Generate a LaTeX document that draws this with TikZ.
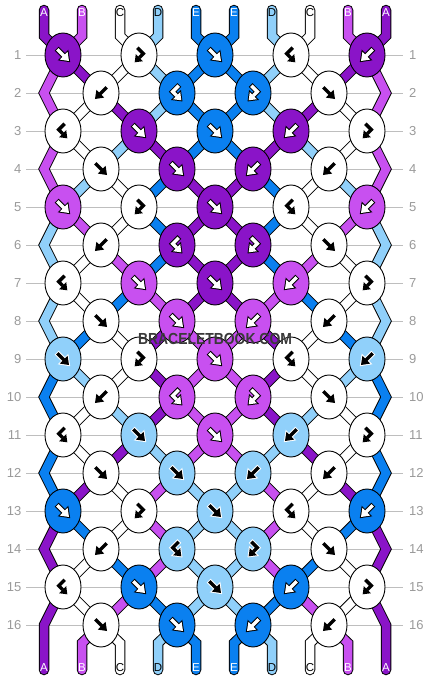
\documentclass[tikz,border=0pt]{standalone}
\usepackage{fontspec}
\setmainfont{Liberation Sans}
\usetikzlibrary{shapes.geometric}
\definecolor{cA}{HTML}{8A14C8}
\definecolor{cB}{HTML}{C850F0}
\definecolor{cC}{HTML}{FFFFFF}
\definecolor{cD}{HTML}{90D0FA}
\definecolor{cE}{HTML}{0A80F0}
\definecolor{gridgray}{HTML}{BEBEBE}
\definecolor{labgray}{HTML}{9A9A9A}
\definecolor{wmark}{HTML}{3A3A3A}
\def\afA{white}\def\aoA{black}
\def\afB{white}\def\aoB{black}
\def\afC{black}\def\aoC{white}
\def\afD{black}\def\aoD{white}
\def\afE{white}\def\aoE{black}
\newcommand\glyphstraight[4]{%
  \begin{scope}[shift={(#1)},rotate=#2]
    \draw[color=#4,line width=5.4pt] (-9,0) -- (1.5,0);
    \filldraw[color=#4,line width=2pt,line join=miter] (1,-5.5) -- (8.5,0) -- (1,5.5) -- cycle;
    \draw[color=#3,line width=3.4pt] (-8,0) -- (1.5,0);
    \fill[color=#3] (1,-5.5) -- (8.5,0) -- (1,5.5) -- cycle;
  \end{scope}}
\newcommand\glyphhook[4]{%
  \begin{scope}[shift={(#1)},xscale=#2,shift={(1.3,0.7)}]
    \draw[color=#4,line width=5.4pt,line join=miter] (-3.7,-8.7) -- (3,-2) -- (-1,2);
    \filldraw[color=#4,line width=2pt,line join=miter] (2.54,5.54) -- (-5.6,6.6) -- (-4.54,-1.54) -- cycle;
    \draw[color=#3,line width=3.4pt,line join=miter] (-3,-8) -- (3,-2) -- (-1,2);
    \fill[color=#3] (2.54,5.54) -- (-5.6,6.6) -- (-4.54,-1.54) -- cycle;
  \end{scope}}
\newcommand\glyphF[3]{\glyphstraight{#1}{-45}{#2}{#3}}
\newcommand\glyphB[3]{\glyphstraight{#1}{-135}{#2}{#3}}
\newcommand\glyphFB[3]{\glyphhook{#1}{1}{#2}{#3}}
\newcommand\glyphBF[3]{\glyphhook{#1}{-1}{#2}{#3}}
\tikzset{
  strand/.style={draw=black,line width=1pt,double=#1,double distance=8.5pt,line join=miter,line cap=butt},
  endstrand/.style={strand=#1,line cap=round},
  knot/.style={ellipse,draw=black,line width=0.9pt,minimum width=36pt,minimum height=44pt,inner sep=0pt,fill=#1},
  gridline/.style={draw=gridgray,line width=1pt},
  rowlab/.style={text=labgray,inner sep=0pt,font=\fontsize{13}{13}\selectfont},
  strlab/.style={inner sep=0pt,font=\fontsize{11.5}{11.5}\selectfont},
  wm/.style={inner sep=0pt,font=\fontsize{16}{16}\selectfont\bfseries}
}
\def\knotdata{1/1/F/A/B/A,1/2/FB/C/C/D,1/3/F/E/E/E,1/4/BF/C/D/C,1/5/B/A/A/B,
2/1/B/C/C/A,2/2/BF/E/D/E,2/3/FB/E/E/D,2/4/F/C/A/C,
3/1/BF/C/B/C,3/2/F/A/D/A,3/3/F/E/E/E,3/4/B/A/A/D,3/5/FB/C/C/B,
4/1/F/C/D/C,4/2/F/A/E/A,4/3/B/A/A/E,4/4/B/C/C/D,
5/1/F/B/D/B,5/2/FB/C/C/E,5/3/F/A/A/A,5/4/BF/C/E/C,5/5/B/B/B/D,
6/1/B/C/C/B,6/2/BF/A/E/A,6/3/FB/A/A/E,6/4/F/C/B/C,
7/1/BF/C/D/C,7/2/F/B/E/B,7/3/F/A/A/A,7/4/B/B/B/E,7/5/FB/C/C/D,
8/1/F/C/E/C,8/2/F/B/A/B,8/3/B/B/B/A,8/4/B/C/C/E,
9/1/F/D/E/D,9/2/FB/C/C/A,9/3/F/B/B/B,9/4/BF/C/A/C,9/5/B/D/D/E,
10/1/B/C/C/D,10/2/BF/B/A/B,10/3/FB/B/B/A,10/4/F/C/D/C,
11/1/BF/C/E/C,11/2/F/D/A/D,11/3/F/B/B/B,11/4/B/D/D/A,11/5/FB/C/C/E,
12/1/F/C/A/C,12/2/F/D/B/D,12/3/B/D/D/B,12/4/B/C/C/A,
13/1/F/E/A/E,13/2/FB/C/C/B,13/3/F/D/D/D,13/4/BF/C/B/C,13/5/B/E/E/A,
14/1/B/C/C/E,14/2/BF/D/B/D,14/3/FB/D/D/B,14/4/F/C/E/C,
15/1/BF/C/A/C,15/2/F/E/B/E,15/3/F/D/D/D,15/4/B/E/E/B,15/5/FB/C/C/A,
16/1/F/C/B/C,16/2/F/E/D/E,16/3/B/E/E/D,16/4/B/C/C/B}
\begin{document}
\begin{tikzpicture}[x=1pt,y=-1pt]
\useasboundingbox (0,0) rectangle (430,680);
\fill[white] (0,0) rectangle (430,680);
% coordinates
\foreach \r in {1,3,...,15} {\foreach \k in {1,...,5} {\coordinate (n\r-\k) at ({63+76*(\k-1)},{17+38*\r});}}
\foreach \r in {2,4,...,16} {\foreach \k in {1,...,4} {\coordinate (n\r-\k) at ({101+76*(\k-1)},{17+38*\r});}}
\foreach \i in {1,...,10} {
  \coordinate (t\i) at ({44+38*(\i-1)},10);
  \coordinate (tb\i) at ({44+38*(\i-1)},36);
  \coordinate (bb\i) at ({44+38*(\i-1)},643);
  \coordinate (b\i) at ({44+38*(\i-1)},670);
}
\foreach \r in {2,4,...,16} {
  \coordinate (eL\r) at (44,{17+38*\r});
  \coordinate (eR\r) at (386,{17+38*\r});
}
% grid lines and row labels
\foreach \r in {1,...,16} {
  \draw[gridline] (26,{17+38*\r}) -- (403,{17+38*\r});
  \node[rowlab,anchor=east] (ll\r) at (21.5,{17+38*\r}) {\r};
  \node[rowlab,anchor=west] (rl\r) at (409,{17+38*\r}) {\r};
}
% top strands
\foreach \i/\cc in {1/A,2/B,3/C,4/D,5/E,6/E,7/D,8/C,9/B,10/A} {
  \pgfmathtruncatemacro\kk{(\i+1)/2}
  \draw[endstrand=c\cc] (t\i) -- (tb\i) -- (n1-\kk);
}
% strands between knots
\foreach \r/\k/\T/\K/\L/\R in \knotdata {
  \pgfmathtruncatemacro\nr{\r+1}
  \pgfmathtruncatemacro\nnr{\r+2}
  \pgfmathtruncatemacro\km{\k-1}
  \pgfmathtruncatemacro\kp{\k+1}
  \ifodd\r\relax
    \ifnum\k=1\relax
      \ifnum\r<15\relax
        \draw[strand=c\L] (n\r-1) -- (eL\nr) -- (n\nnr-1);
      \else
        \draw[endstrand=c\L] (n\r-1) -- (eL\nr) -- (b1);
      \fi
    \else
      \draw[strand=c\L] (n\r-\k) -- (n\nr-\km);
    \fi
    \ifnum\k=5\relax
      \ifnum\r<15\relax
        \draw[strand=c\R] (n\r-5) -- (eR\nr) -- (n\nnr-5);
      \else
        \draw[endstrand=c\R] (n\r-5) -- (eR\nr) -- (b10);
      \fi
    \else
      \draw[strand=c\R] (n\r-\k) -- (n\nr-\k);
    \fi
  \else
    \ifnum\r<16\relax
      \draw[strand=c\L] (n\r-\k) -- (n\nr-\k);
      \draw[strand=c\R] (n\r-\k) -- (n\nr-\kp);
    \else
      \pgfmathtruncatemacro\il{2*\k}
      \pgfmathtruncatemacro\ir{2*\k+1}
      \draw[endstrand=c\L] (n\r-\k) -- (bb\il) -- (b\il);
      \draw[endstrand=c\R] (n\r-\k) -- (bb\ir) -- (b\ir);
    \fi
  \fi
}
% knots and glyphs
\foreach \r/\k/\T/\K/\L/\R in \knotdata {
  \node[knot=c\K] (k\r-\k) at (n\r-\k) {};
  \edef\fc{\csname af\K\endcsname}
  \edef\oc{\csname ao\K\endcsname}
  \csname glyph\T\endcsname{n\r-\k}{\fc}{\oc}
}
% string letters
\foreach \i/\cc/\tc in {1/A/white,2/B/white,3/C/black,4/D/black,5/E/white,6/E/white,7/D/black,8/C/black,9/B/white,10/A/white} {
  \node[strlab,text=\tc] (tl\i) at ({44+38*(\i-1)},12.5) {\cc};
  \node[strlab,text=\tc] (bl\i) at ({44+38*(\i-1)},667.5) {\cc};
}
% watermark
\node[wm,text=wmark] (wm) at (215,339) {\scalebox{0.87}[1]{BRACELETBOOK.COM}};
\end{tikzpicture}
\end{document}
